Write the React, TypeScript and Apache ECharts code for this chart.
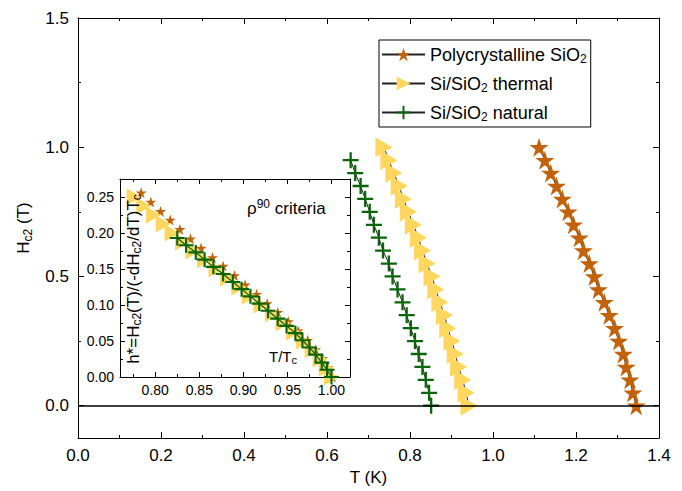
import React, { useEffect, useRef } from "react";
import * as echarts from "echarts";

// ---------- data ----------
const polyT = [1.111, 1.125, 1.139, 1.153, 1.167, 1.181, 1.194, 1.208, 1.218, 1.232, 1.244, 1.254, 1.268, 1.280, 1.293, 1.303, 1.314, 1.321, 1.330, 1.337, 1.345];
const polyH = [1.0, 0.95, 0.9, 0.85, 0.8, 0.75, 0.7, 0.65, 0.6, 0.55, 0.5, 0.45, 0.4, 0.35, 0.3, 0.25, 0.2, 0.15, 0.1, 0.05, 0.0];

const thermalT = [0.737, 0.749, 0.761, 0.774, 0.784, 0.796, 0.808, 0.820, 0.830, 0.841, 0.853, 0.862, 0.872, 0.883, 0.891, 0.901, 0.909, 0.917, 0.927, 0.935, 0.942];
const thermalH = [1.0, 0.95, 0.9, 0.85, 0.8, 0.75, 0.7, 0.65, 0.6, 0.55, 0.5, 0.45, 0.4, 0.35, 0.3, 0.25, 0.2, 0.15, 0.1, 0.05, 0.0];

const naturalT = [0.657, 0.668, 0.681, 0.692, 0.703, 0.713, 0.725, 0.735, 0.749, 0.758, 0.770, 0.782, 0.792, 0.802, 0.812, 0.821, 0.830, 0.838, 0.846, 0.851];
const naturalH = [0.95, 0.9, 0.85, 0.8, 0.75, 0.7, 0.65, 0.6, 0.55, 0.5, 0.45, 0.4, 0.35, 0.3, 0.25, 0.2, 0.15, 0.1, 0.05, 0.0];

// inset: h* vs T/Tc
const insetPolyT = [0.784, 0.795, 0.806, 0.817, 0.828, 0.840, 0.852, 0.865, 0.877, 0.890, 0.902, 0.915, 0.927, 0.939, 0.951, 0.962, 0.973, 0.982, 0.990, 0.996, 1.001];
const insetPolyH = [0.256, 0.243, 0.230, 0.218, 0.205, 0.192, 0.179, 0.166, 0.154, 0.141, 0.128, 0.115, 0.102, 0.090, 0.077, 0.064, 0.051, 0.038, 0.026, 0.013, 0.0];

const insetThermalT = [0.776, 0.787, 0.798, 0.809, 0.819, 0.831, 0.843, 0.856, 0.869, 0.882, 0.895, 0.907, 0.920, 0.933, 0.945, 0.957, 0.968, 0.978, 0.987, 0.994, 1.000];
const insetThermalH = [0.25, 0.2375, 0.225, 0.2125, 0.2, 0.1875, 0.175, 0.1625, 0.15, 0.1375, 0.125, 0.1125, 0.1, 0.0875, 0.075, 0.0625, 0.05, 0.0375, 0.025, 0.0125, 0.0];

const insetNaturalT = [0.825, 0.835, 0.846, 0.856, 0.866, 0.877, 0.888, 0.898, 0.908, 0.918, 0.928, 0.939, 0.949, 0.959, 0.967, 0.975, 0.982, 0.989, 0.995, 1.000];
const insetNaturalH = [0.193, 0.183, 0.173, 0.163, 0.153, 0.143, 0.132, 0.122, 0.112, 0.102, 0.092, 0.081, 0.071, 0.061, 0.051, 0.041, 0.031, 0.020, 0.010, 0.0];

const mainXTicks = [0, 0.2, 0.4, 0.6, 0.8, 1.0, 1.2, 1.4];
const mainXMinor = [0.1, 0.3, 0.5, 0.7, 0.9, 1.1, 1.3];
const mainYTicks = [0, 0.5, 1.0, 1.5];
const mainYMinor = [0.25, 0.75, 1.25];
const insetXTicks = [0.8, 0.85, 0.9, 0.95, 1.0];
const insetXMinor = [0.775, 0.825, 0.875, 0.925, 0.975];
const insetYTicks = [0, 0.05, 0.1, 0.15, 0.2, 0.25];
const insetYMinor = [0.025, 0.075, 0.125, 0.175, 0.225];

const seriesNames = ["Polycrystalline SiO2", "Si/SiO2 thermal", "Si/SiO2 natural"];
const legendLabels: Record<string, string> = {
  "Polycrystalline SiO2": "Polycrystalline SiO{sub|2}",
  "Si/SiO2 thermal": "Si/SiO{sub|2} thermal",
  "Si/SiO2 natural": "Si/SiO{sub|2} natural",
};

// ---------- styling ----------
const FONT = "'Liberation Sans', Arial, sans-serif";
const STAR = "path://M50,0 L61.23,34.55 L97.55,34.55 L68.17,55.9 L79.39,90.45 L50,69.1 L20.61,90.45 L31.83,55.9 L2.45,34.55 L38.77,34.55 Z";
const CROSS = "path://M6,0h2v6h6v2h-6v6h-2v-6h-6v-2h6z";
const BROWN = "#C2620A";
const YELLOW = "#FFD75E";
const GREEN = "#0A650A";

const zip = (a: number[], b: number[]) => a.map((v, i) => [v, b[i]]);

function axisSet(
  dim: "x" | "y",
  gridIndex: number,
  min: number,
  max: number,
  majors: number[],
  minors: number[],
  majorLen: number,
  minorLen: number,
  label: any,
  name: any
) {
  const primary = dim === "x" ? "bottom" : "left";
  const secondary = dim === "x" ? "top" : "right";
  const base = { type: "value", gridIndex, min, max, splitLine: { show: false } };
  const line = { show: true, onZero: false, lineStyle: { color: "#000", width: 1 } };
  const noLine = { show: false, onZero: false };
  const tick = (vals: number[], len: number) => ({
    show: true,
    inside: true,
    length: len,
    customValues: vals,
    lineStyle: { color: "#000", width: 1 },
  });
  return [
    { ...base, position: primary, axisLine: line, axisTick: tick(majors, majorLen), axisLabel: { show: true, customValues: majors, ...label }, ...name },
    { ...base, position: primary, axisLine: noLine, axisTick: tick(minors, minorLen), axisLabel: { show: false } },
    { ...base, position: secondary, axisLine: line, axisTick: tick(majors, majorLen), axisLabel: { show: false } },
    { ...base, position: secondary, axisLine: noLine, axisTick: tick(minors, minorLen), axisLabel: { show: false } },
  ];
}

export default function App() {
  const ref = useRef<HTMLDivElement>(null);
  useEffect(() => {
    if (!ref.current) return;
    const chart = echarts.init(ref.current, undefined, { renderer: "svg" });

    const mainLabel = { color: "#000", fontFamily: FONT, fontSize: 17, margin: 9, formatter: (v: number) => v.toFixed(1) };
    const insetLabel = { color: "#000", fontFamily: FONT, fontSize: 14, margin: 6, formatter: (v: number) => v.toFixed(2) };

    const xAxes = [
      ...axisSet("x", 0, 0, 1.4, mainXTicks, mainXMinor, 6, 3, mainLabel, {
        name: "T (K)",
        nameLocation: "middle",
        nameGap: 31,
        nameTextStyle: { color: "#000", fontFamily: FONT, fontSize: 17 },
      }),
      ...axisSet("x", 1, 0.76, 1.021, insetXTicks, insetXMinor, 5, 3, insetLabel, {}),
    ];
    const yAxes = [
      ...axisSet("y", 0, -0.125, 1.5, mainYTicks, mainYMinor, 6, 3, mainLabel, {
        name: "H{sub|c2} (T)",
        nameLocation: "middle",
        nameGap: 35,
        nameTextStyle: {
          color: "#000",
          fontFamily: FONT,
          fontSize: 17,
          lineHeight: 22,
          rich: { sub: { fontSize: 12, lineHeight: 12, verticalAlign: "bottom", fontFamily: FONT, color: "#000" } },
        },
      }),
      ...axisSet("y", 1, 0, 0.275, insetYTicks, insetYMinor, 5, 3, insetLabel, {}),
    ];

    const lineStyle = { color: "#222", width: 1 };

    const option: any = {
      animation: false,
      backgroundColor: "#fff",
      grid: [
        { left: 78, right: 23, top: 18, bottom: 51 },
        { left: 120, top: 179, width: 230, height: 198, show: true, backgroundColor: "#fff", borderWidth: 0 },
      ],
      xAxis: xAxes,
      yAxis: yAxes,
      legend: {
        data: seriesNames,
        orient: "vertical",
        left: 379,
        top: 40,
        itemWidth: 43,
        itemHeight: 17,
        itemGap: 8,
        padding: [4, 4, 4, 2],
        borderColor: "#000",
        borderWidth: 1,
        formatter: (n: string) => legendLabels[n],
        textStyle: {
          color: "#000",
          fontFamily: FONT,
          fontSize: 18,
          lineHeight: 21,
          rich: { sub: { fontSize: 12, lineHeight: 12, verticalAlign: "bottom", fontFamily: FONT, color: "#000" } },
        },
      },
      graphic: [
        {
          type: "text",
          x: 133,
          y: 279,
          rotation: Math.PI / 2,
          z: 100,
          style: {
            text: "h*=H{sub|c2}(T)/(-dH{sub|c2}/dT)T{sub|c}",
            align: "center",
            verticalAlign: "middle",
            fill: "#000",
            font: `17px ${FONT}`,
            lineHeight: 20,
            rich: { sub: { fontSize: 12, lineHeight: 12, verticalAlign: "bottom", fontFamily: FONT, fill: "#000" } },
          },
        },
        {
          type: "text",
          x: 283,
          y: 356,
          z: 100,
          style: {
            text: "T/T{sub|c}",
            align: "center",
            verticalAlign: "middle",
            fill: "#000",
            font: `15px ${FONT}`,
            lineHeight: 19,
            rich: { sub: { fontSize: 11, lineHeight: 11, verticalAlign: "bottom", fontFamily: FONT, fill: "#000" } },
          },
        },
        {
          type: "text",
          x: 247,
          y: 208,
          z: 100,
          style: {
            text: "ρ{sup|90} criteria",
            align: "left",
            verticalAlign: "middle",
            fill: "#000",
            font: `17px ${FONT}`,
            lineHeight: 21,
            rich: { sup: { fontSize: 12, lineHeight: 12, verticalAlign: "top", fontFamily: FONT, fill: "#000" } },
          },
        },
      ],
      series: [
        {
          type: "line",
          name: seriesNames[0],
          xAxisIndex: 0,
          yAxisIndex: 0,
          data: zip(polyT, polyH),
          symbol: STAR,
          symbolSize: 19,
          itemStyle: { color: BROWN },
          lineStyle,
          z: 3,
          markLine: {
            silent: true,
            symbol: "none",
            label: { show: false },
            lineStyle: { color: "#000", width: 1.5, type: "solid" },
            data: [{ yAxis: 0 }],
          },
        },
        {
          type: "line",
          name: seriesNames[1],
          xAxisIndex: 0,
          yAxisIndex: 0,
          data: zip(thermalT, thermalH),
          symbol: "triangle",
          symbolRotate: -90,
          symbolSize: [20, 17],
          itemStyle: { color: YELLOW },
          lineStyle,
          z: 3,
        },
        {
          type: "line",
          name: seriesNames[2],
          xAxisIndex: 0,
          yAxisIndex: 0,
          data: zip(naturalT, naturalH),
          symbol: CROSS,
          symbolSize: 16,
          itemStyle: { color: GREEN },
          lineStyle,
          z: 3,
        },
        {
          type: "line",
          name: "inset-poly",
          xAxisIndex: 4,
          yAxisIndex: 4,
          data: zip(insetPolyT, insetPolyH),
          symbol: STAR,
          symbolSize: 11,
          itemStyle: { color: BROWN },
          lineStyle: { width: 0, opacity: 0 },
          z: 4,
        },
        {
          type: "line",
          name: "inset-thermal",
          xAxisIndex: 4,
          yAxisIndex: 4,
          data: zip(insetThermalT, insetThermalH),
          symbol: "triangle",
          symbolRotate: -90,
          symbolSize: [17, 15],
          itemStyle: { color: YELLOW },
          lineStyle: { width: 0, opacity: 0 },
          z: 5,
        },
        {
          type: "line",
          name: "inset-natural",
          xAxisIndex: 4,
          yAxisIndex: 4,
          data: zip(insetNaturalT, insetNaturalH),
          symbol: CROSS,
          symbolSize: 15,
          itemStyle: { color: GREEN },
          lineStyle: { color: GREEN, width: 1.2 },
          z: 6,
        },
      ],
    };
    chart.setOption(option);
    return () => chart.dispose();
  }, []);
  return <div ref={ref} style={{ position: "absolute", left: 0, top: 0, width: 682, height: 491 }} />;
}
